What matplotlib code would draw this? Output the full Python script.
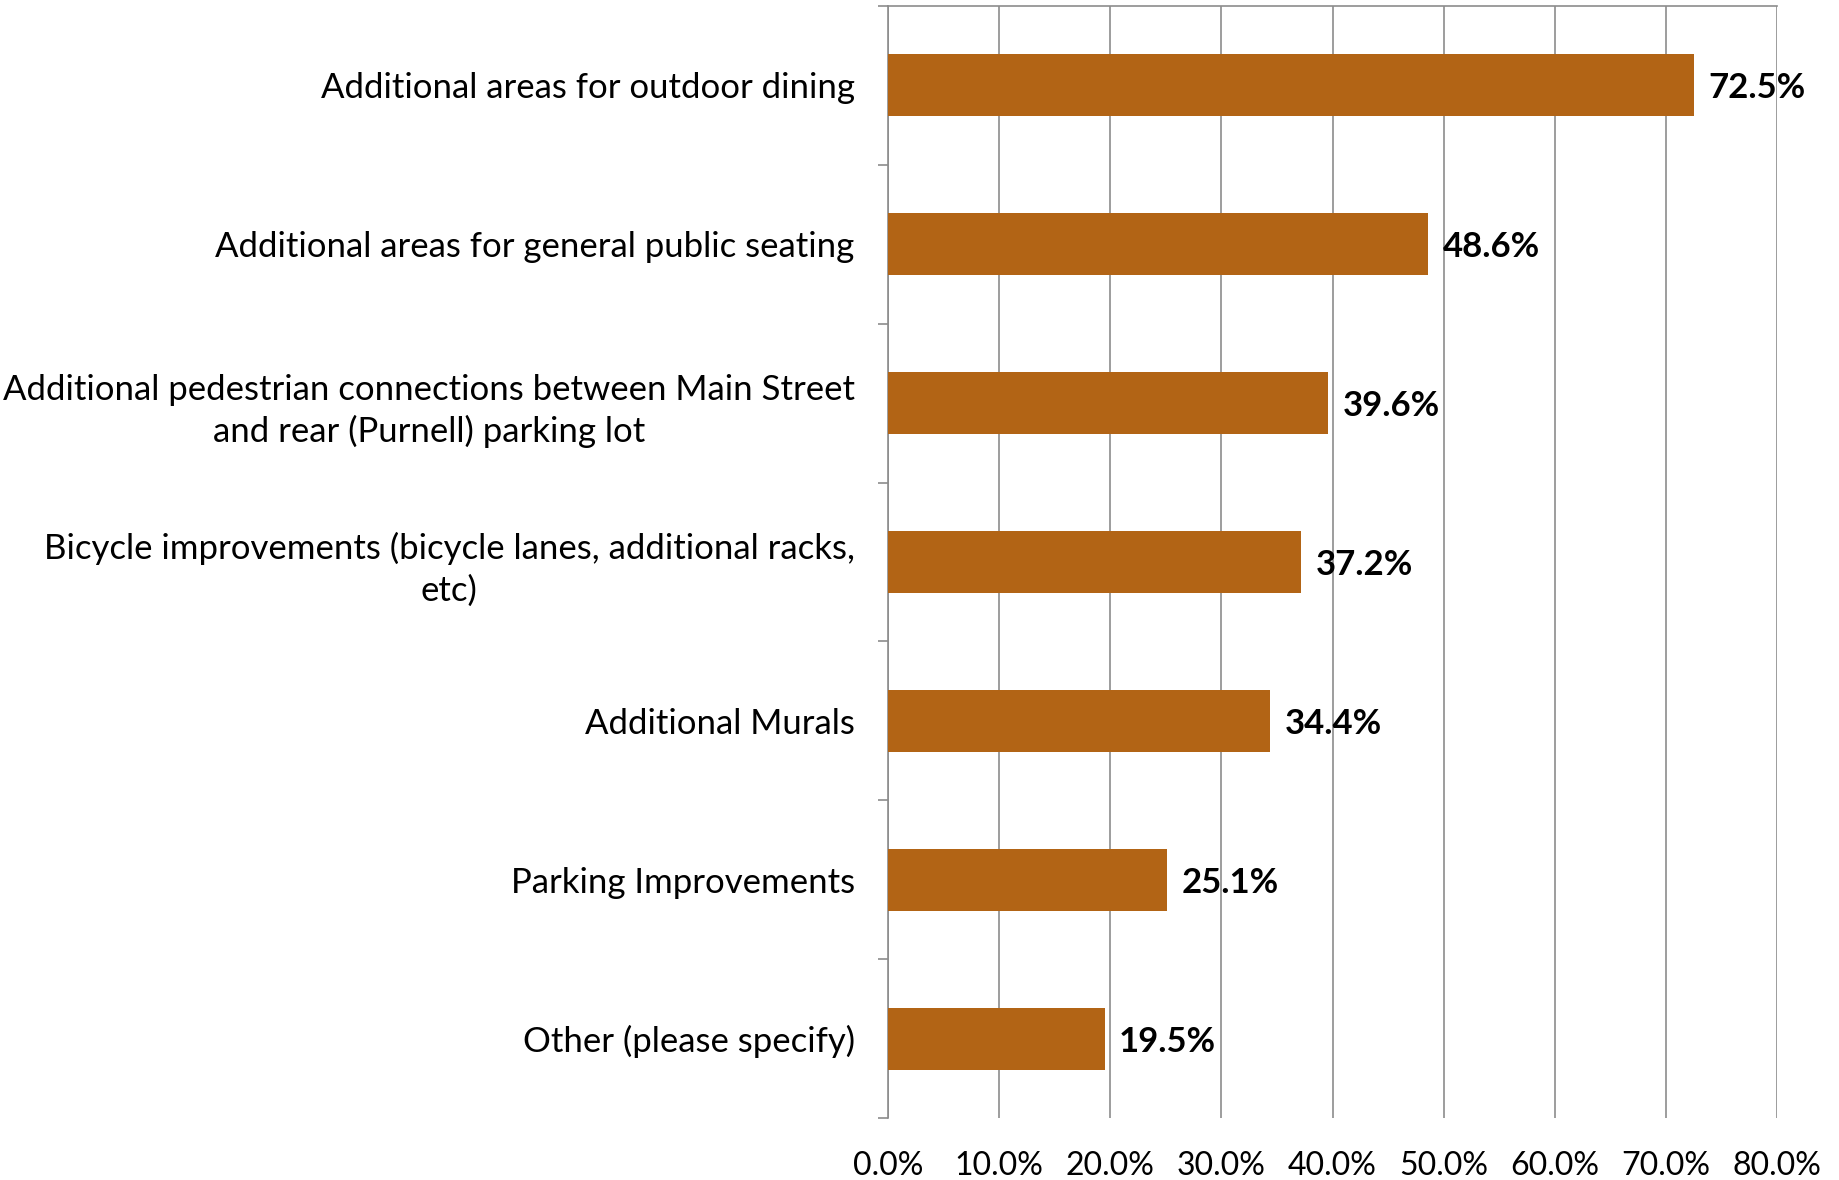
import matplotlib.pyplot as plt
import numpy as np

kategorien = [
    "Additional areas for outdoor dining",
    "Additional areas for general public seating",
    "Additional pedestrian connections between Main Street\nand rear (Purnell) parking lot",
    "Bicycle improvements (bicycle lanes, additional racks,\netc)",
    "Additional Murals",
    "Parking Improvements",
    "Other (please specify)",
]
werte = [72.5, 48.6, 39.6, 37.2, 34.4, 25.1, 19.5]
x_ticks = [0, 10, 20, 30, 40, 50, 60, 70, 80]

plt.rcParams['font.family'] = ['Lato', 'DejaVu Sans']

fig = plt.figure(figsize=(18.39, 11.80), dpi=100)
ax = fig.add_axes([0.4829, 0.0525, 0.4834, 0.9424])

y = np.arange(len(kategorien))
ax.barh(y, werte, height=0.39, color="#B26415", zorder=3)

for yi, w in zip(y, werte):
    ax.text(w + 1.3, yi, f"{w:.1f}%", va="center_baseline", ha="left",
            fontsize=25, fontweight="bold", zorder=4)

ax.set_ylim(len(kategorien) - 0.5, -0.5)
ax.set_xlim(0, 80)

ax.set_yticks(y)
ax.set_yticklabels(kategorien, fontsize=25, multialignment="center", linespacing=1.35)
ax.set_yticks(np.arange(-0.5, len(kategorien)), minor=True)
ax.tick_params(axis="y", which="major", length=0, pad=24)
ax.tick_params(axis="y", which="minor", length=7, width=1.2, color="#8c8c8c", direction="out")

ax.set_xticks(x_ticks)
ax.set_xticklabels([f"{v:.1f}%" for v in x_ticks], fontsize=23)
ax.tick_params(axis="x", length=0, pad=24)

ax.grid(axis="x", color="#8c8c8c", linewidth=1.2, zorder=0)
ax.spines["left"].set_color("#8c8c8c")
ax.spines["left"].set_linewidth(1.2)
ax.spines["top"].set_color("#8c8c8c")
ax.spines["top"].set_linewidth(1.2)
ax.spines["right"].set_visible(False)
ax.spines["bottom"].set_visible(False)

fig.savefig("out.png", dpi=100)
